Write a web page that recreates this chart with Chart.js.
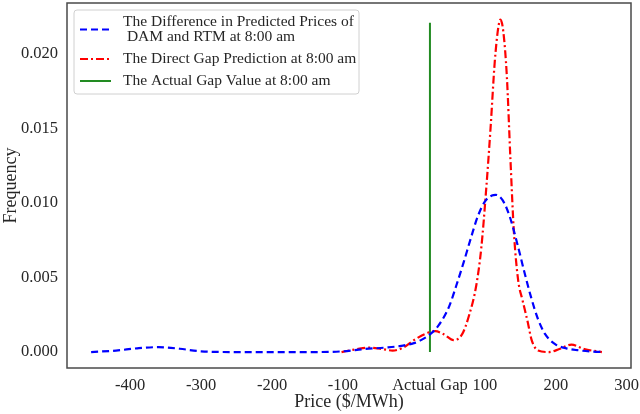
<!DOCTYPE html>
<html>
<head>
<meta charset="utf-8">
<script src="https://cdn.jsdelivr.net/npm/chart.js@4/dist/chart.umd.min.js"></script>
<style>
  html, body { margin: 0; padding: 0; background: #fff; }
  #wrap { width: 640px; height: 414px; }
</style>
</head>
<body>
<div id="wrap"><canvas id="chart"></canvas></div>
<script>
// price axis values ($/MWh) and densities
const diffX = [-455, -420, -390, -360, -330, -300, -250, -200, -150, -100, -70, -40, -20, 0, 10, 23, 35, 50, 60, 70, 80, 90, 100, 110, 115, 125, 135, 145, 155, 165, 175, 185, 200, 215, 230, 250, 268];
const diffY = [0.0000, 0.0001, 0.00025, 0.00033, 0.00022, 0.00005, 0.0000, 0.0000, 0.0000, 0.00005, 0.0002, 0.0003, 0.0004, 0.0006, 0.0008, 0.0012, 0.0018, 0.0031, 0.0045, 0.0060, 0.0076, 0.0091, 0.0101, 0.0105, 0.01055, 0.0102, 0.0091, 0.0074, 0.0055, 0.0037, 0.0022, 0.0012, 0.0005, 0.00025, 0.00013, 0.00004, 0.0];

const directX = [-102, -80, -63, -45, -30, -15, 0, 15, 30, 42, 56, 68, 78, 88, 95, 102, 108, 114, 119, 122, 126, 131, 136, 141, 147, 153, 160, 166, 175, 190, 205, 222, 240, 265];
const directY = [0.0, 0.0002, 0.0003, 0.0002, 0.0001, 0.0003, 0.0008, 0.0012, 0.0014, 0.0012, 0.0008, 0.0012, 0.0025, 0.0045, 0.0070, 0.0110, 0.0150, 0.0195, 0.0218, 0.0223, 0.0215, 0.0185, 0.0130, 0.0080, 0.0048, 0.0035, 0.0021, 0.0008, 0.0001, 0.0, 0.0002, 0.0005, 0.0002, 0.0];

const gapValue = 22.6;
const gapTop = 0.0221;

const xTickValues = [-400, -300, -200, -100, gapValue, 100, 200, 300];
const xTickLabels = ['-400', '-300', '-200', '-100', 'Actual Gap', '100', '200', '300'];
const yTickValues = [0, 0.005, 0.010, 0.015, 0.020];

const legendLabels = [
    ['The Difference in Predicted Prices of', ' DAM and RTM at 8:00 am'],
    ['The Direct Gap Prediction at 8:00 am'],
    ['The Actual Gap Value at 8:00 am']
];

const serif = "'Liberation Serif', 'DejaVu Serif', serif";

const toPoints = (xs, ys) => xs.map((x, i) => ({ x: x, y: ys[i] }));

// box round the plot area
const frame = {
    id: 'frame',
    afterDraw(chart) {
        const { ctx, chartArea: a } = chart;
        ctx.save();
        ctx.strokeStyle = '#4a4a4a';
        ctx.lineWidth = 1.5;
        ctx.strokeRect(a.left, a.top, a.right - a.left, a.bottom - a.top);
        ctx.restore();
    }
};

// legend drawn inside the plot, upper left
const innerLegend = {
    id: 'innerLegend',
    afterDraw(chart) {
        const ctx = chart.ctx;
        const boxL = 74, boxT = 10, boxW = 285, boxH = 84;
        ctx.save();
        ctx.fillStyle = 'rgba(255,255,255,0.85)';
        ctx.strokeStyle = '#d0d0d0';
        ctx.lineWidth = 1;
        ctx.beginPath();
        ctx.roundRect(boxL, boxT, boxW, boxH, 3);
        ctx.fill();
        ctx.stroke();

        const rows = [[22, 37], [59], [81]];
        ctx.font = '15.5px ' + serif;
        ctx.textBaseline = 'middle';
        ctx.fillStyle = '#262626';
        chart.data.datasets.forEach((ds, i) => {
            const ys = rows[i];
            const midY = ys.length > 1 ? (ys[0] + ys[1]) / 2 : ys[0];
            ctx.strokeStyle = ds.borderColor;
            ctx.lineWidth = ds.borderWidth;
            ctx.setLineDash(ds.borderDash || []);
            ctx.beginPath();
            ctx.moveTo(80, midY);
            ctx.lineTo(111, midY);
            ctx.stroke();
            ctx.setLineDash([]);
            legendLabels[i].forEach((t, j) => ctx.fillText(t, 123, ys[j]));
        });
        ctx.restore();
    }
};

new Chart(document.querySelector('#chart'), {
    type: 'scatter',
    data: {
        datasets: [
            {
                label: 'The Difference in Predicted Prices of DAM and RTM at 8:00 am',
                data: toPoints(diffX, diffY),
                showLine: true,
                borderColor: '#0000ff',
                borderWidth: 2.2,
                borderDash: [7, 4],
                pointRadius: 0,
                cubicInterpolationMode: 'monotone'
            },
            {
                label: 'The Direct Gap Prediction at 8:00 am',
                data: toPoints(directX, directY),
                showLine: true,
                borderColor: '#ff0000',
                borderWidth: 2.2,
                borderDash: [8, 3, 2, 3],
                pointRadius: 0,
                cubicInterpolationMode: 'monotone'
            },
            {
                label: 'The Actual Gap Value at 8:00 am',
                data: [{ x: gapValue, y: 0 }, { x: gapValue, y: gapTop }],
                showLine: true,
                borderColor: '#228b22',
                borderWidth: 2,
                pointRadius: 0
            }
        ]
    },
    options: {
        responsive: true,
        maintainAspectRatio: false,
        animation: false,
        layout: { padding: { top: 3, right: 9, left: 0, bottom: 0 } },
        plugins: {
            legend: { display: false },
            tooltip: { enabled: false }
        },
        scales: {
            x: {
                type: 'linear',
                min: -489,
                max: 306,
                grid: { display: false, drawTicks: false },
                border: { display: false },
                afterBuildTicks: s => { s.ticks = xTickValues.map(v => ({ value: v })); },
                afterFit: s => { s.height = 46; s.paddingLeft = 0; s.paddingRight = 0; },
                ticks: {
                    autoSkip: false,
                    maxRotation: 0,
                    padding: 8,
                    color: '#262626',
                    font: { family: serif, size: 16.5 },
                    callback: (v, i) => xTickLabels[i]
                },
                title: {
                    display: true,
                    text: 'Price ($/MWh)',
                    color: '#262626',
                    font: { family: serif, size: 18 },
                    padding: { top: 0, bottom: 1 }
                }
            },
            y: {
                min: -0.00107,
                max: 0.02342,
                grid: { display: false, drawTicks: false },
                border: { display: false },
                afterBuildTicks: s => { s.ticks = yTickValues.map(v => ({ value: v })); },
                afterFit: s => { s.width = 67; s.paddingTop = 0; s.paddingBottom = 0; },
                ticks: {
                    padding: 9,
                    color: '#262626',
                    font: { family: serif, size: 16.5 },
                    callback: v => v.toFixed(3)
                },
                title: {
                    display: true,
                    text: 'Frequency',
                    color: '#262626',
                    font: { family: serif, size: 18 },
                    padding: { top: 0, bottom: 0 }
                }
            }
        }
    },
    plugins: [frame, innerLegend]
});
</script>
</body>
</html>
